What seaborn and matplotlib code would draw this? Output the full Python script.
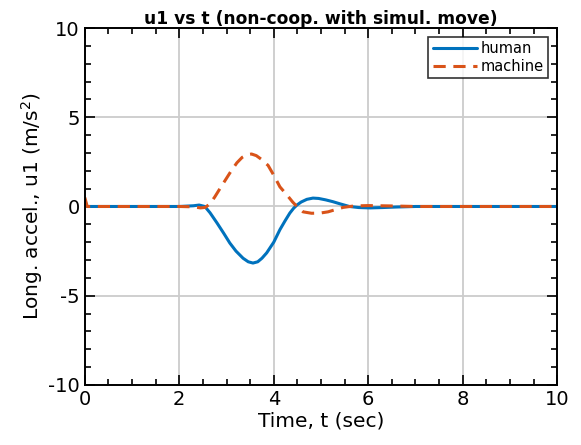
import numpy as np
import pandas as pd
import matplotlib
matplotlib.use("Agg")
import matplotlib.pyplot as plt
import seaborn as sns
from matplotlib.ticker import MultipleLocator

# values
t_human = [0.0, 0.05, 1.0, 2.0, 2.3, 2.42, 2.54, 2.65, 2.8, 2.94, 3.07, 3.2, 3.35, 3.46,
           3.56, 3.66, 3.75, 3.85, 4.0, 4.13, 4.24, 4.34, 4.42, 4.49, 4.58, 4.7, 4.83,
           4.95, 5.1, 5.25, 5.4, 5.6, 5.8, 6.04, 6.3, 6.6, 7.0, 8.0, 9.0, 10.0]
u_human = [0.3, 0.0, 0.0, 0.0, 0.04, 0.08, 0.0, -0.35, -0.93, -1.5, -2.05, -2.5, -2.9, -3.1,
           -3.17, -3.1, -2.9, -2.6, -2.0, -1.3, -0.8, -0.37, -0.1, 0.08, 0.25, 0.4, 0.47,
           0.45, 0.37, 0.27, 0.15, 0.0, -0.06, -0.08, -0.06, -0.03, 0.0, 0.0, 0.0, 0.0]

t_machine = [0.0, 0.05, 1.0, 2.0, 2.3, 2.45, 2.55, 2.65, 2.75, 2.86, 2.98, 3.1, 3.22, 3.33,
             3.43, 3.53, 3.63, 3.75, 3.88, 4.0, 4.13, 4.28, 4.4, 4.49, 4.62, 4.8, 4.98,
             5.15, 5.3, 5.47, 5.7, 6.0, 6.5, 7.0, 8.0, 9.0, 10.0]
u_machine = [0.5, 0.0, 0.0, 0.0, -0.02, -0.08, -0.05, 0.15, 0.53, 1.0, 1.5, 2.0, 2.45, 2.75,
             2.9, 2.94, 2.85, 2.62, 2.3, 1.75, 1.1, 0.64, 0.25, 0.0, -0.3, -0.38, -0.37,
             -0.3, -0.18, -0.05, 0.03, 0.05, 0.03, 0.0, 0.0, 0.0, 0.0]

sns.set_theme(style="ticks")
plt.rcParams["font.family"] = ["DejaVu Sans"]
plt.rcParams["axes.unicode_minus"] = False
plt.rcParams["text.color"] = "black"
plt.rcParams["axes.labelcolor"] = "black"

human = pd.DataFrame({"t": t_human, "u1": u_human})
machine = pd.DataFrame({"t": t_machine, "u1": u_machine})

fig = plt.figure(figsize=(5.81, 4.45), dpi=100)
ax = fig.add_axes([0.146, 0.135, 0.813, 0.802])

sns.lineplot(data=human, x="t", y="u1", ax=ax, color="#0072BD", linewidth=2.2,
             label="human")
sns.lineplot(data=machine, x="t", y="u1", ax=ax, color="#D95319", linewidth=2.2,
             label="machine")
ax.lines[1].set_linestyle((0, (4, 2.5)))

ax.set_xlim(0, 10)
ax.set_ylim(-10, 10)
ax.set_xticks([0, 2, 4, 6, 8, 10])
ax.set_yticks([-10, -5, 0, 5, 10])
ax.xaxis.set_minor_locator(MultipleLocator(0.5))
ax.yaxis.set_minor_locator(MultipleLocator(1))
ax.tick_params(which="both", direction="in", top=True, right=True, width=1.2,
               labelsize=14, colors="black")
ax.tick_params(which="major", length=7)
ax.tick_params(which="minor", length=4)
ax.grid(True, which="major", color="#cccccc", linewidth=1.3)
ax.set_axisbelow(True)
for s in ax.spines.values():
    s.set_linewidth(1.4)
    s.set_color("black")

ax.set_xlabel("Time, t (sec)", fontsize=14.5, labelpad=2)
ax.set_ylabel("Long. accel., u1 (m/s$^2$)", fontsize=14.5, labelpad=2)
ax.set_title("u1 vs t (non-coop. with simul. move)", fontsize=12.3, fontweight="bold", pad=3)

leg = ax.legend(loc="upper right", fontsize=10.5, frameon=True, fancybox=False,
                handlelength=3, borderpad=0.3, labelspacing=0.2, handletextpad=0.3,
                borderaxespad=0.6)
leg.get_frame().set_edgecolor("black")
leg.get_frame().set_linewidth(1.2)
for txt in leg.get_texts():
    txt.set_color("black")

fig.savefig("out.png", dpi=100)
